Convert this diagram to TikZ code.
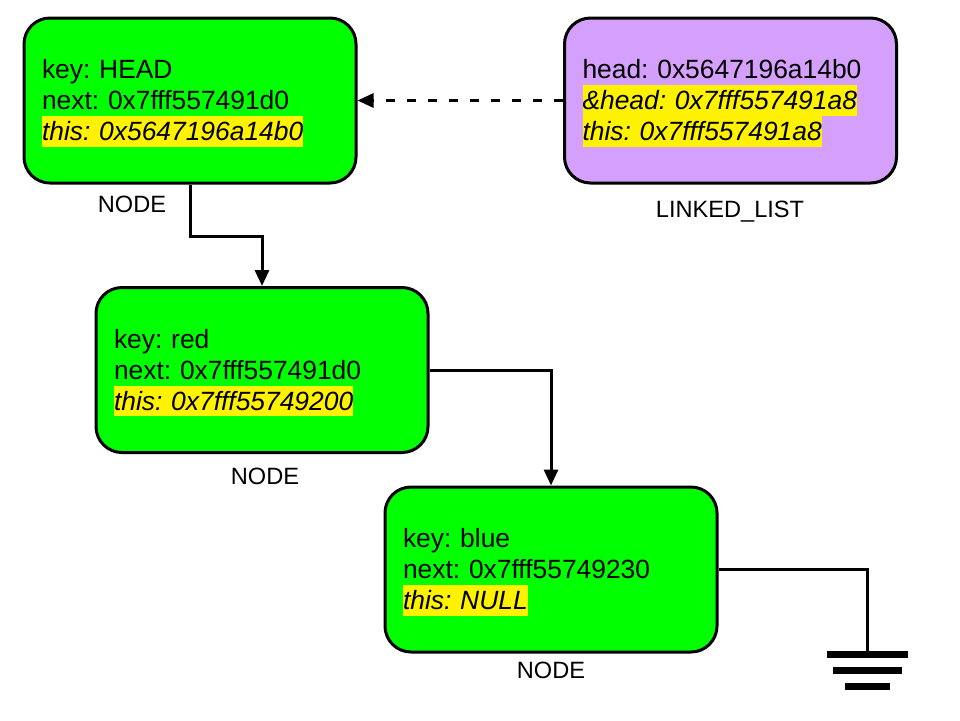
\documentclass[tikz,border=0pt]{standalone}
\usepackage{fontspec}
\setmainfont{Liberation Sans}
\usetikzlibrary{arrows.meta}
\definecolor{nodegreen}{RGB}{0,255,0}
\definecolor{listpurple}{RGB}{213,160,252}
\frenchspacing
% line strut: same height for every text line in a box
\newcommand{\lstrut}{\rule[-0.24em]{0pt}{1.17em}}
% highlighted (italic, yellow background) field
\newcommand{\hlfield}[1]{{\setlength{\fboxsep}{0pt}\colorbox{yellow}{\lstrut\itshape #1}}}
\begin{document}
\begin{tikzpicture}[x=0.5pt,y=-0.5pt,
  membox/.style={draw=black, line width=1.5pt, rounded corners=13pt,
    minimum width=166pt, minimum height=82.5pt, text width=148pt,
    inner xsep=9pt, inner ysep=0pt, align=left,
    font=\fontsize{13.2}{15.5}\selectfont},
  nodebox/.style={membox, fill=nodegreen},
  listbox/.style={membox, fill=listpurple},
  caption/.style={font=\fontsize{11.8}{14}\selectfont, inner sep=0pt},
  conn/.style={draw=black, line width=1.5pt, -{Triangle[length=8pt,width=7pt]}},
  wire/.style={draw=black, line width=1.5pt}
]
\useasboundingbox (0,0) rectangle (960,720);

% structures
\node[nodebox] (h1) at (190,100.5) {\lstrut key: HEAD\\ \lstrut next: 0x7fff557491d0\\ \hlfield{this: 0x5647196a14b0}};
\node[listbox] (ll) at (730.5,100.5) {\lstrut head: 0x5647196a14b0\\ \hlfield{\&head: 0x7fff557491a8}\\ \hlfield{this: 0x7fff557491a8}};
\node[nodebox] (n2) at (262,370) {\lstrut key: red\\ \lstrut next: 0x7fff557491d0\\ \hlfield{this: 0x7fff55749200}};
\node[nodebox] (n3) at (551,569.5) {\lstrut key: blue\\ \lstrut next: 0x7fff55749230\\ \hlfield{this: NULL}};

% type captions
\node[caption] (c1) at (132,204) {NODE};
\node[caption] (cl) at (730,212) {LINKED\_LIST};
\node[caption] (c2) at (265,476) {NODE};
\node[caption] (c3) at (551,670) {NODE};

% links
\draw[conn, dash pattern=on 4.5pt off 6pt] (ll.west) -- (h1.east);
\draw[conn] (h1.south) -- ++(0,52) -| (n2.north);
\draw[conn] (n2.east) -| (n3.north);

% end of list: ground symbol
\coordinate (gnd) at (867,651);
\draw[wire] (n3.east) -| (gnd);
\begin{scope}[shift={(gnd)}]
  \fill[black] (-40,0) rectangle (41,7);
  \fill[black] (-34,16) rectangle (35,23);
  \fill[black] (-22,32) rectangle (23,39);
\end{scope}
\end{tikzpicture}
\end{document}
